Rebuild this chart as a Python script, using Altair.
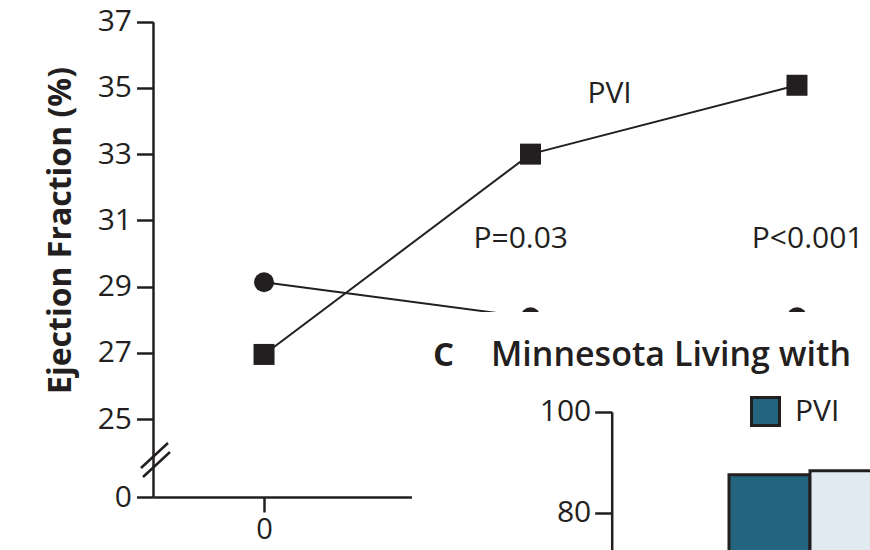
import altair as alt
import pandas as pd

# ---------------- data ----------------
months = [0, 3, 6]
series_names = ["PVI", "AV-node ablation with biventricular pacing"]
ef_pvi = [26.95, 33.0, 35.08]
ef_av = [29.13, 28.07, 28.07]
y_ticks = [0, 25, 27, 29, 31, 33, 35, 37]
x_ticks = [0]

note_labels = ["PVI", "P=0.03", "P<0.001"]
note_months = [3.89, 2.89, 6.12]
note_ef = [34.54, 30.16, 30.16]

mlwhf_groups = ["PVI", "AV-node ablation with biventricular pacing"]
mlwhf_scores = [87.5, 88.3]
mlwhf_ticks = [80, 100]

# ---------------- style ----------------
INK = "#231f20"
TEAL = "#23647e"
LIGHT = "#e1eaf1"
FONT = "Open Sans"
W, H = 717, 497

ef_df = pd.DataFrame({
    "month": months * 2,
    "ef": ef_pvi + ef_av,
    "group": [series_names[0]] * 3 + [series_names[1]] * 3,
})
notes_df = pd.DataFrame({"label": note_labels, "month": note_months, "ef": note_ef})
bars_df = pd.DataFrame({"group": mlwhf_groups, "score": mlwhf_scores})

xs = alt.Scale(domain=[-1.25, 6.822], nice=False, zero=False)
ys = alt.Scale(domain=[0, 25, 37], range=[497, 419, 21.7], nice=False, zero=False)

x_axis = alt.Axis(values=x_ticks, format="d", title=None, grid=False, tickSize=15, tickWidth=2.5,
                  domainWidth=2.5, domainColor=INK, tickColor=INK, labelColor=INK,
                  labelFont=FONT, labelFontSize=29, labelPadding=3)
y_axis = alt.Axis(values=y_ticks, title="Ejection Fraction (%)", grid=False, tickSize=16.5,
                  tickWidth=2.5, domainWidth=2.5, domainColor=INK, tickColor=INK,
                  labelColor=INK, labelFont=FONT, labelFontSize=30, labelPadding=5,
                  titleFont=FONT, titleFontSize=32, titleFontWeight="bold", titleColor=INK,
                  titleX=-93, titleY=230, titleAngle=270, titleAlign="center",
                  titleBaseline="middle")

base = alt.Chart(ef_df).encode(
    x=alt.X("month:Q", scale=xs, axis=x_axis),
    y=alt.Y("ef:Q", scale=ys, axis=y_axis),
    detail="group:N",
)
lines = base.mark_line(color=INK, strokeWidth=2)
points = base.mark_point(filled=True, opacity=1, color=INK).encode(
    shape=alt.Shape("group:N", scale=alt.Scale(domain=series_names, range=["square", "circle"]), legend=None),
    size=alt.Size("group:N", scale=alt.Scale(domain=series_names, range=[441, 400]), legend=None),
)
notes = alt.Chart(notes_df).mark_text(font=FONT, fontSize=30, color=INK, align="center",
                                      baseline="alphabetic").encode(
    x=alt.X("month:Q", scale=xs), y=alt.Y("ef:Q", scale=ys), text="label:N")

brk = pd.DataFrame({"k": [0]})
slash1 = alt.Chart(brk).mark_rule(color=INK, strokeWidth=2.5).encode(
    x=alt.value(-12), y=alt.value(468), x2=alt.value(15), y2=alt.value(443))
slash2 = alt.Chart(brk).mark_rule(color=INK, strokeWidth=2.5).encode(
    x=alt.value(-10), y=alt.value(477), x2=alt.value(17), y2=alt.value(452))

main = alt.layer(lines, points, notes, slash1, slash2)

# white panel that covers the lower right (panel C area)
cover = alt.Chart(brk).mark_rect(color="white").encode(
    x=alt.value(259), x2=alt.value(740), y=alt.value(312), y2=alt.value(600))

# ---------------- panel C ----------------
c_axis = alt.Axis(orient="left", offset=-458.7, values=mlwhf_ticks, title=None, grid=False,
                  tickSize=17, tickWidth=2.5, domainWidth=2.5, domainColor=INK, tickColor=INK,
                  labelColor=INK, labelFont=FONT, labelFontSize=30, labelPadding=4, zindex=1)
bars = alt.Chart(bars_df).mark_bar(stroke=INK, strokeWidth=3).encode(
    x=alt.X("group:N", scale=alt.Scale(domain=mlwhf_groups, range=[576, 738],
                                       paddingInner=0, paddingOuter=0), axis=None),
    y=alt.Y("score:Q", scale=alt.Scale(domain=[0, 100], range=[916.7, 411.7], nice=False),
            axis=c_axis),
    fill=alt.Fill("group:N", scale=alt.Scale(domain=mlwhf_groups, range=[TEAL, LIGHT]),
                  legend=alt.Legend(values=["PVI"], orient="none", legendX=597, legendY=396,
                                    title=None, padding=0, symbolType="square", symbolSize=784,
                                    symbolStrokeColor=INK, symbolStrokeWidth=3,
                                    symbolFillColor=TEAL,
                                    labelFont=FONT, labelFontSize=30, labelColor=INK,
                                    labelOffset=14)),
)
c_letter = alt.Chart(brk).mark_text(font=FONT, fontSize=33, fontWeight="bold", color=INK,
                                    align="left", baseline="alphabetic").encode(
    x=alt.value(280), y=alt.value(366), text=alt.value("C"))
c_title = alt.Chart(brk).mark_text(font=FONT, fontSize=34, fontWeight=600, color=INK,
                                   align="left", baseline="alphabetic").encode(
    x=alt.value(338), y=alt.value(366), text=alt.value("Minnesota Living with"))

panel_c = alt.layer(bars, c_letter, c_title)

chart = alt.layer(main, cover, panel_c).resolve_scale(
    x="independent", y="independent", fill="independent"
).properties(
    width=W, height=H, autosize=alt.AutoSizeParams(type="none"),
    padding={"left": 153, "top": 0, "right": 0, "bottom": 53},
    background="white",
).configure_view(stroke=None)

chart.save("out.html", embed_options={"renderer": "svg", "actions": False})
